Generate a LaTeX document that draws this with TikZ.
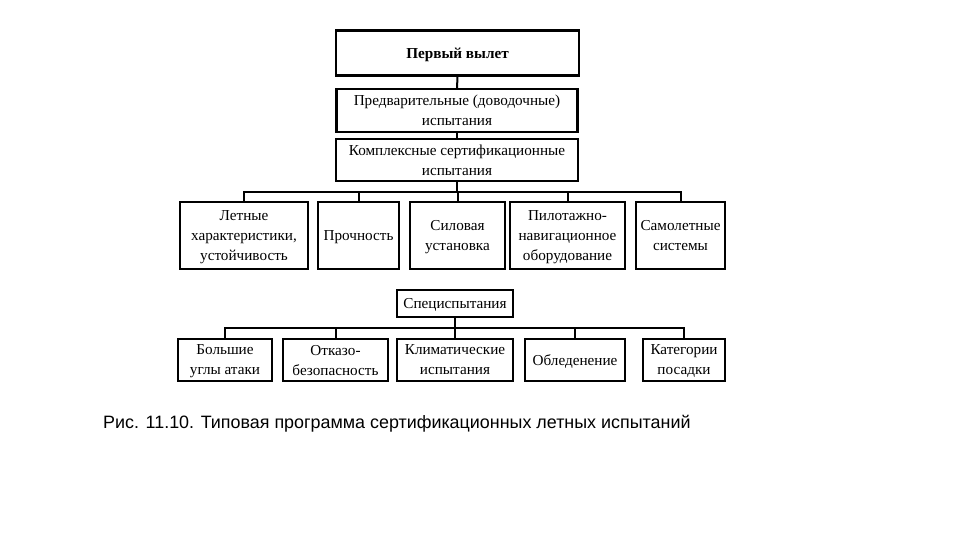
\documentclass[tikz,border=0pt]{standalone}
\usepackage{fontspec}
\setmainfont{Liberation Serif}
\newfontfamily\capfont{Liberation Sans}
\usetikzlibrary{positioning}

\begin{document}
\begin{tikzpicture}[x=1pt,y=-1pt,
  blok/.style={draw, line width=2.2pt, align=center, inner sep=1pt, text depth=0pt, font=\fontsize{15.2}{20}\selectfont},
  svyaz/.style={line width=2pt}]
\useasboundingbox (0,0) rectangle (960,540);
\node[blok, minimum width=243pt, minimum height=45pt, font=\fontsize{15.2}{20}\selectfont\bfseries] (vylet) at (457.5,53) {Первый вылет};
\node[blok, minimum width=241pt, minimum height=43pt] (predv) at (457,110.5) {Предварительные (доводочные)\\испытания};
\node[blok, minimum width=242pt, minimum height=42pt] (kompl) at (457,160) {Комплексные сертификационные\\испытания};
\node[blok, minimum width=128pt, minimum height=67pt] (letn) at (244,235.5) {Летные\\характеристики,\\устойчивость};
\node[blok, minimum width=81pt, minimum height=67pt] (proch) at (358.5,235.5) {Прочность};
\node[blok, minimum width=95pt, minimum height=67pt] (silov) at (457.5,235.5) {Силовая\\установка};
\node[blok, minimum width=115pt, minimum height=67pt] (pilot) at (567.5,235.5) {Пилотажно-\\навигационное\\оборудование};
\node[blok, minimum width=89pt, minimum height=67pt] (samol) at (680.5,235.5) {Самолетные\\системы};
\node[blok, minimum width=116pt, minimum height=27pt] (spec) at (455,303.5) {Специспытания};
\node[blok, minimum width=94pt, minimum height=42pt] (bolsh) at (225,360) {Большие\\углы атаки};
\node[blok, minimum width=105pt, minimum height=42pt] (otkaz) at (335.5,360) {Отказо-\\безопасность};
\node[blok, minimum width=116pt, minimum height=42pt] (klimat) at (455,360) {Климатические\\испытания};
\node[blok, minimum width=100pt, minimum height=42pt] (oblед) at (575,360) {Обледенение};
\node[blok, minimum width=82pt, minimum height=42pt] (kateg) at (684,360) {Категории\\посадки};
\coordinate (shina1) at (457,192);
\coordinate (shina2) at (455,327.5);
\draw[svyaz] (vylet) -- (predv);
\draw[svyaz] (predv) -- (kompl);
\draw[svyaz] (kompl) -- (shina1);
\foreach \n in {letn,proch,silov,pilot,samol}
  \draw[svyaz] (\n.north) |- (shina1);
\draw[svyaz] (spec) -- (shina2);
\foreach \n in {bolsh,otkaz,klimat,oblед,kateg}
  \draw[svyaz] (\n.north) |- (shina2);
\node[anchor=base west, inner sep=0pt, font=\capfont\fontsize{17.9}{21}\selectfont] (podpis) at (103,428) {Рис. 11.10. Типовая программа сертификационных летных испытаний};
\end{tikzpicture}
\end{document}
